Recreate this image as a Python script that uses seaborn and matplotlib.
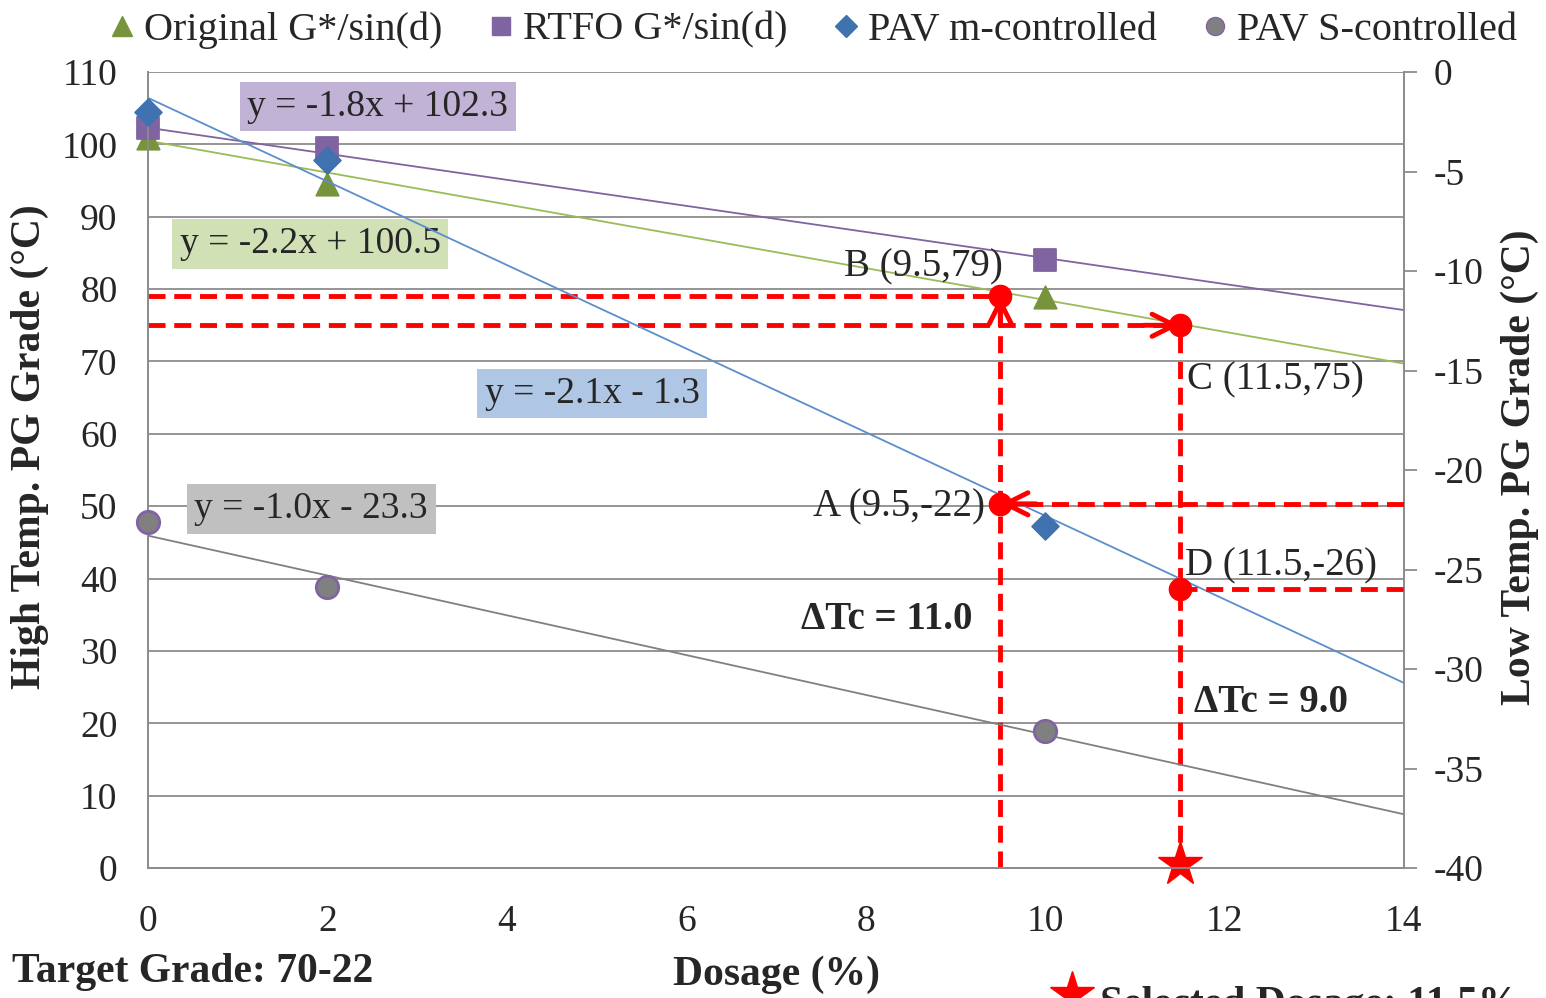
import numpy as np
import pandas as pd
import matplotlib.pyplot as plt
import seaborn as sns
from matplotlib.lines import Line2D

# measured binder grades vs dosage
dosage = [0, 2, 10]
original = [100.9, 94.5, 78.9]
rtfo = [102.3, 99.5, 84.0]
pav_m = [-2.0, -4.4, -22.8]
pav_s = [-22.6, -25.9, -33.1]

# trend lines (slope, intercept) as printed on the chart
orig_fit = (-2.2, 100.5)
rtfo_fit = (-1.8, 102.3)
pavm_fit = (-2.1, -1.3)
pavs_fit = (-1.0, -23.3)
fit_labels = ['y = -2.2x + 100.5', 'y = -1.8x + 102.3', 'y = -2.1x - 1.3', 'y = -1.0x - 23.3']

# design points
high_x = [9.5, 11.5]
high_y = [79, 75]
high_labels = ['B (9.5,79)', 'C (11.5,75)']
low_x = [9.5, 11.5]
low_y = [-21.7, -26]
low_labels = ['A (9.5,-22)', 'D (11.5,-26)']
delta_tc = ['ΔTc = 11.0', 'ΔTc = 9.0']
selected = 11.5

GREEN, GREEN_L = '#77933C', '#9BBB59'
PURPLE = '#8064A2'
BLUE, BLUE_L = '#3F72AF', '#5B8FCC'
GREY = '#808080'
RED = '#FF0000'

sns.set_style('white')
plt.rcParams['font.family'] = ['Liberation Serif', 'DejaVu Sans']
plt.rcParams['axes.unicode_minus'] = False

fig = plt.figure(figsize=(15.46, 9.98), dpi=100)
ax = fig.add_axes([148 / 1546, 1 - 868 / 998, 1256 / 1546, 796 / 998])
ax2 = ax.twinx()

ax.set_xlim(0, 14)
ax.set_ylim(0, 110)
ax2.set_ylim(-40, 0)

# trend lines
xs = np.array([0, 14])
for (m, b), c, a in [(orig_fit, GREEN_L, ax), (rtfo_fit, PURPLE, ax),
                     (pavm_fit, BLUE_L, ax2), (pavs_fit, GREY, ax2)]:
    sns.lineplot(x=xs, y=m * xs + b, color=c, lw=1.3, ax=a)

# scatter series
df = pd.DataFrame({'dosage': dosage, 'orig': original, 'rtfo': rtfo,
                   'pavm': pav_m, 'pavs': pav_s})
sns.scatterplot(data=df, x='dosage', y='orig', marker='^', s=260, color=GREEN,
                edgecolor=GREEN, ax=ax, zorder=4, clip_on=False)
sns.scatterplot(data=df, x='dosage', y='rtfo', marker='s', s=260, color=PURPLE,
                edgecolor=PURPLE, ax=ax, zorder=4, clip_on=False)
sns.scatterplot(data=df, x='dosage', y='pavm', marker='D', s=190, color=BLUE,
                edgecolor=BLUE, ax=ax2, zorder=4, clip_on=False)
sns.scatterplot(data=df, x='dosage', y='pavs', marker='o', s=260, color=GREY,
                edgecolor=PURPLE, linewidth=2, ax=ax2, zorder=4, clip_on=False)

# red dashed guide lines
dash = dict(color=RED, lw=3.5, linestyle=(0, (3.5, 1.8)), zorder=5)
ax.plot([0, high_x[0]], [high_y[0]] * 2, **dash)
ax.plot([0, high_x[1]], [high_y[1]] * 2, **dash)
ax.plot([high_x[0]] * 2, [0, high_y[0]], **dash)
ax.plot([high_x[1]] * 2, [0, high_y[1]], **dash)
ax2.plot([low_x[0], 14], [low_y[0]] * 2, **dash)
ax2.plot([low_x[1], 14], [low_y[1]] * 2, **dash)

# red points
ax.plot(high_x, high_y, 'o', color=RED, ms=16, zorder=6, ls='none')
ax2.plot(low_x, low_y, 'o', color=RED, ms=16, zorder=6, ls='none')
ax.plot([selected], [0.6], marker='*', color=RED, ms=33, zorder=6, clip_on=False)

# arrow heads
head = dict(arrowstyle='->', color=RED, lw=3.5, mutation_scale=40, shrinkA=0, shrinkB=0)
ax.annotate('', xy=(high_x[0], high_y[0]), xytext=(high_x[0], high_y[0] - 4), arrowprops=head, zorder=7)
ax.annotate('', xy=(high_x[1], high_y[1]), xytext=(high_x[1] - 0.4, high_y[1]), arrowprops=head, zorder=7)
ax2.annotate('', xy=(low_x[0], low_y[0]), xytext=(low_x[0] + 0.4, low_y[0]), arrowprops=head, zorder=7)

# trendline equation boxes
eq_pos = [(1.81, 86.2), (2.56, 105.2), (4.95, 65.6), (1.82, 49.6)]
eq_bg = ['#D1E1B5', '#C0B3D6', '#AFC7E4', '#C0C0C0']
for lab, (x, y), bg in zip(fit_labels, eq_pos, eq_bg):
    ax.text(x, y, lab, fontsize=27, ha='center', va='center', zorder=3,
            bbox=dict(boxstyle='square,pad=0.2', fc=bg, ec='none'))

# point labels
ax.text(9.53, 83.1, high_labels[0], fontsize=28, ha='right', va='center', zorder=8)
ax.text(11.58, 67.4, high_labels[1], fontsize=28, ha='left', va='center', zorder=8)
ax.text(9.33, 49.9, low_labels[0], fontsize=28, ha='right', va='center', zorder=8)
ax.text(11.56, 41.7, low_labels[1], fontsize=28, ha='left', va='center', zorder=8)
ax.text(8.24, 34.3, delta_tc[0], fontsize=28, fontweight='bold', ha='center', va='center')
ax.text(12.52, 22.9, delta_tc[1], fontsize=28, fontweight='bold', ha='center', va='center')

# axes styling
ax.set_xticks(np.arange(0, 15, 2))
ax.set_yticks(np.arange(0, 111, 10))
ax2.set_yticks(np.arange(-40, 1, 5))
ax.yaxis.grid(True, color='#8C8C8C', lw=1.3)
ax.set_axisbelow(True)
ax.tick_params(axis='x', direction='in', length=9, width=1.3, color='#8C8C8C',
               labelsize=27, pad=26)
ax.tick_params(axis='y', length=0, labelsize=27, pad=22)
ax2.tick_params(axis='y', direction='out', length=9, width=1.3, color='#8C8C8C',
                labelsize=27, pad=12)
for a in (ax, ax2):
    a.spines['top'].set_visible(False)
    for side in ('left', 'right', 'bottom'):
        a.spines[side].set_color('#8C8C8C')
        a.spines[side].set_linewidth(1.3)

ax.set_xlabel('Dosage (%)', fontsize=30, fontweight='bold', va='center')
ax.xaxis.set_label_coords(0.5, -0.134)
ax.set_ylabel('High Temp. PG Grade (°C)', fontsize=30, fontweight='bold', va='center')
ax.yaxis.set_label_coords(-0.094, 0.529)
ax2.set_ylabel('Low Temp. PG Grade (°C)', fontsize=30, fontweight='bold', va='center')
ax2.yaxis.set_label_coords(1.092, 0.503)

# legend
handles = [
    Line2D([], [], marker='^', color=GREEN, ls='none', ms=14),
    Line2D([], [], marker='s', color=PURPLE, ls='none', ms=13),
    Line2D([], [], marker='D', color=BLUE, ls='none', ms=11),
    Line2D([], [], marker='o', color=GREY, mec=PURPLE, ls='none', ms=13),
]
labels = ['Original G*/sin(d)', 'RTFO G*/sin(d)', 'PAV m-controlled', 'PAV S-controlled']
fig.legend(handles, labels, loc='center', bbox_to_anchor=(0.523, 1 - 30 / 998), ncol=4,
           frameon=False, fontsize=29, handletextpad=0.0, columnspacing=0.9,
           handlelength=1.1)

# footer texts
fig.text(12 / 1546, 1 - 972 / 998, 'Target Grade: 70-22', fontsize=30,
         fontweight='bold', ha='left', va='center')
fig.add_artist(Line2D([1072 / 1546], [1 - 994 / 998], marker='*', color=RED, ms=33,
                      transform=fig.transFigure, clip_on=False))
fig.text(1100 / 1546, 1 - 1005 / 998, 'Selected Dosage: 11.5%', fontsize=30,
         fontweight='bold', ha='left', va='center')

fig.savefig('out.png', dpi=100)
